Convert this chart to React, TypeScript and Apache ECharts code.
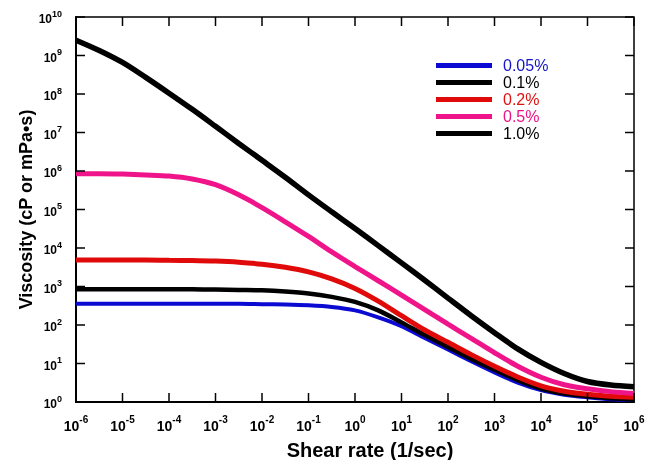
import React, { useEffect, useRef } from "react";
import * as echarts from "echarts";

// axis ranges and tick positions as decade exponents (10^n)
const xExpRange = [-6, 6];
const yExpRange = [0, 10];
const xTickExps = [-6, -5, -4, -3, -2, -1, 0, 1, 2, 3, 4, 5, 6];
const yTickExps = [0, 1, 2, 3, 4, 5, 6, 7, 8, 9, 10];

const seriesNames = ["0.05%", "0.1%", "0.2%", "0.5%", "1.0%"];
const lineColors = ["#0a0ad2", "#000000", "#e00a0a", "#f0148a", "#000000"];
const textColors = ["#1414c8", "#000000", "#e01010", "#ea1485", "#000000"];
const lineWidths = [4, 4.5, 5, 5, 5.5];

// shear rate (1/sec), half-decade steps
const shearRate = [
  1e-6, 3.16e-6, 1e-5, 3.16e-5, 1e-4, 3.16e-4, 1e-3, 3.16e-3, 1e-2, 3.16e-2, 0.1, 0.316, 1,
  3.16, 10, 31.6, 100, 316, 1e3, 3160, 1e4, 3.16e4, 1e5, 3.16e5, 1e6,
];
// viscosity (cP)
const visc005 = [355, 355, 355, 355, 355, 355, 355, 355, 347, 339, 324, 295, 240, 158, 93, 46, 23, 11.5, 5.9, 3.2, 2.04, 1.55, 1.32, 1.17, 1.12];
const visc01 = [851, 851, 851, 851, 851, 851, 832, 813, 794, 741, 661, 537, 398, 240, 117, 55, 27, 13.2, 6.9, 3.7, 2.24, 1.66, 1.41, 1.26, 1.2];
const visc02 = [4900, 4900, 4900, 4900, 4790, 4730, 4570, 4270, 3800, 3160, 2400, 1580, 890, 417, 174, 74, 35.5, 17, 8.5, 4.47, 2.63, 1.9, 1.58, 1.41, 1.32];
const visc05 = [8.5e5, 8.5e5, 8.3e5, 7.9e5, 7.4e5, 6.2e5, 4.4e5, 2.4e5, 1.12e5, 4.8e4, 2.0e4, 7900, 3300, 1410, 600, 251, 105, 45, 19, 8.5, 4.4, 2.8, 2.2, 1.86, 1.66];
const visc10 = [2.5e9, 1.35e9, 6.6e8, 2.7e8, 1.05e8, 4.0e7, 1.45e7, 5.2e6, 1.9e6, 6.9e5, 2.4e5, 8.7e4, 3.2e4, 1.15e4, 4100, 1450, 500, 174, 63, 24, 10.7, 5.5, 3.4, 2.75, 2.5];

const seriesVisc = [visc005, visc01, visc02, visc05, visc10];

const FONT = "'Liberation Sans', Arial, Helvetica, sans-serif";

const powLabel = (n: number) => `{b|10}{e|${Math.round(n)}}`;

const makeRich = (size: number, supSize: number, raise: number) => ({
  b: { fontSize: size, fontWeight: "bold", fontFamily: FONT, color: "#000", verticalAlign: "bottom", lineHeight: size + 1 },
  e: { fontSize: supSize, fontWeight: "bold", fontFamily: FONT, color: "#000", verticalAlign: "bottom", padding: [0, 0, raise, 0] },
});

const TICK_LEN = 9;
const tickLine = (x1: number, y1: number, x2: number, y2: number) => ({
  type: "line",
  shape: { x1, y1, x2, y2 },
  style: { stroke: "#000", lineWidth: 1.5 },
});

export default function App() {
  const ref = useRef<HTMLDivElement>(null);
  useEffect(() => {
    if (!ref.current) return;
    const chart = echarts.init(ref.current, undefined, { renderer: "svg" });
    const option: any = {
      animation: false,
      grid: {
        left: 76, right: 13, top: 17, bottom: 58, containLabel: false, outerBoundsMode: "none",
        show: true, borderColor: "#000", borderWidth: 1.5, backgroundColor: "transparent",
      },
      legend: {
        orient: "vertical",
        left: 436,
        top: 57,
        padding: 0,
        itemWidth: 56,
        itemHeight: 5,
        itemGap: 0,
        icon: "rect",
        textStyle: { fontSize: 16, fontFamily: FONT, lineHeight: 17, padding: [0, 0, 0, 6] },
        data: seriesNames.map((n, i) => ({ name: n, textStyle: { color: textColors[i] } })),
      },
      xAxis: {
        type: "value",
        min: xExpRange[0],
        max: xExpRange[1],
        interval: 1,
        position: "bottom",
        name: "Shear rate (1/sec)",
        nameLocation: "middle",
        nameGap: 38,
        nameMoveOverlap: false,
        nameTextStyle: { fontSize: 20, fontWeight: "bold", fontFamily: FONT, color: "#000", padding: [0, 0, 0, 30] },
        axisLine: { show: true, onZero: false, lineStyle: { color: "#000", width: 2 } },
        axisTick: { show: false },
        axisLabel: { formatter: powLabel, rich: makeRich(14, 10, 9), margin: 12, hideOverlap: false },
        splitLine: { show: false },
      },
      yAxis: {
        type: "value",
        min: yExpRange[0],
        max: yExpRange[1],
        interval: 1,
        position: "left",
        name: "Viscosity (cP or mPa\u2022s)",
        nameLocation: "middle",
        nameGap: 41,
        nameMoveOverlap: false,
        nameTextStyle: { fontSize: 18, fontWeight: "bold", fontFamily: FONT, color: "#000" },
        axisLine: { show: true, onZero: false, lineStyle: { color: "#000", width: 2 } },
        axisTick: { show: false },
        axisLabel: { formatter: powLabel, rich: makeRich(12, 9, 7), margin: 14, hideOverlap: false },
        splitLine: { show: false },
      },
      series: [
        ...seriesNames.map((n, i) => ({
          name: n,
          type: "line",
          showSymbol: false,
          smooth: 0.3,
          color: lineColors[i],
          lineStyle: { color: lineColors[i], width: lineWidths[i] },
          data: shearRate.map((x, j) => [Math.log10(x), Math.log10(seriesVisc[i][j])]),
          z: 2 + i,
        })),
        {
          type: "custom",
          silent: true,
          z: 10,
          data: xTickExps.map((n) => [n, yExpRange[0]]),
          renderItem: (_p: any, api: any) => {
            const n = api.value(0);
            const b = api.coord([n, yExpRange[0]]);
            const t = api.coord([n, yExpRange[1]]);
            return {
              type: "group",
              children: [tickLine(b[0], b[1], b[0], b[1] - TICK_LEN), tickLine(t[0], t[1], t[0], t[1] + TICK_LEN)],
            };
          },
        },
        {
          type: "custom",
          silent: true,
          z: 10,
          data: yTickExps.map((n) => [xExpRange[0], n]),
          renderItem: (_p: any, api: any) => {
            const n = api.value(1);
            const l = api.coord([xExpRange[0], n]);
            const r = api.coord([xExpRange[1], n]);
            return {
              type: "group",
              children: [tickLine(l[0], l[1], l[0] + TICK_LEN, l[1]), tickLine(r[0], r[1], r[0] - TICK_LEN, r[1])],
            };
          },
        },
      ],
    };
    chart.setOption(option);
    return () => chart.dispose();
  }, []);
  return <div ref={ref} style={{ position: "fixed", left: 0, top: 0, width: 647, height: 460 }} />;
}
